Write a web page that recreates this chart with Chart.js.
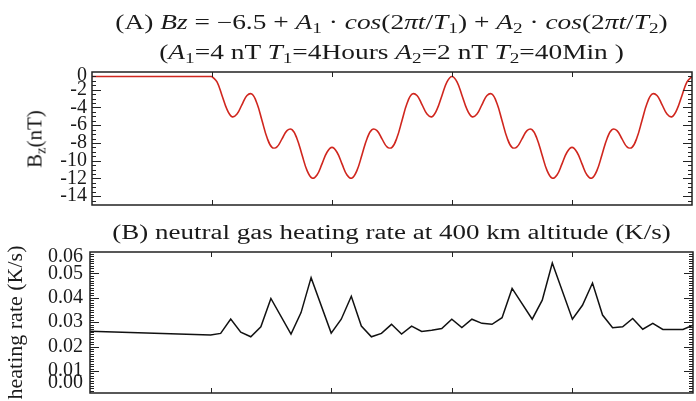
<!DOCTYPE html>
<html>
<head>
<meta charset="utf-8">
<script src="https://cdn.jsdelivr.net/npm/chart.js@4.4.1/dist/chart.umd.min.js"></script>
<style>
  body { margin: 0; background: #fff; }
  #wrap { position: relative; width: 696px; height: 401px; overflow: hidden;
          font-family: "Liberation Serif", "DejaVu Serif", serif; color: #1a1a1a; }
  canvas { position: absolute; left: 0; }
  .title { position: absolute; left: 91px; width: 601px; text-align: center;
           white-space: nowrap; font-size: 20px; line-height: 20px;
           transform: scaleX(1.37); transform-origin: 50% 50%; }
  .title sub { font-size: 70%; vertical-align: -0.25em; line-height: 0; }
  #bzLabel { position: absolute; left: 35px; top: 139px; font-size: 21px; white-space: nowrap;
             transform: translate(-50%, -50%) rotate(-90deg); }
  #bzLabel sub { font-size: 70%; vertical-align: -0.25em; line-height: 0; }
</style>
</head>
<body>
<div id="wrap">
  <canvas id="bzChart" width="696" height="215" style="top:0"></canvas>
  <canvas id="heatChart" width="696" height="186" style="top:215px"></canvas>
  <div class="title" style="top:12px">(A) <i>Bz</i> = &minus;6.5 + <i>A</i><sub>1</sub> &middot; <i>cos</i>(2<i>&pi;t</i>/<i>T</i><sub>1</sub>) + <i>A</i><sub>2</sub> &middot; <i>cos</i>(2<i>&pi;t</i>/<i>T</i><sub>2</sub>)</div>
  <div class="title" style="top:42px">(<i>A</i><sub>1</sub>=4 nT <i>T</i><sub>1</sub>=4Hours <i>A</i><sub>2</sub>=2 nT <i>T</i><sub>2</sub>=40Min )</div>
  <div class="title" style="top:222px; transform: scaleX(1.35)">(B) neutral gas heating rate at 400 km altitude (K/s)</div>
  <div id="bzLabel">B<sub>z</sub>(nT)</div>
</div>
<script>
// time axis in minutes, 0..600
const axisMinutes = [0, 600];
const xTickMinutes = [120, 240, 360, 480];

// IMF Bz (nT): quiet -0.5 until minute 120, then the two-period wave
const bzMinutes = [0,
  120, 125, 130, 135, 140, 145, 150, 155, 160, 165, 170, 175, 180, 185, 190, 195,
  200, 205, 210, 215, 220, 225, 230, 235, 240, 245, 250, 255, 260, 265, 270, 275,
  280, 285, 290, 295, 300, 305, 310, 315, 320, 325, 330, 335, 340, 345, 350, 355, 360,
  365, 370, 375, 380, 385, 390, 395, 400, 405, 410, 415, 420, 425, 430, 435, 440, 445,
  450, 455, 460, 465, 470, 475, 480, 485, 490, 495, 500, 505, 510, 515, 520, 525,
  530, 535, 540, 545, 550, 555, 560, 565, 570, 575, 580, 585, 590, 595, 600];
const bzValues = [-0.5,
  -0.5, -1.12, -2.64, -4.22, -5.04, -4.74, -3.67, -2.65, -2.5, -3.56, -5.47, -7.39, -8.5, -8.44, -7.54, -6.62,
  -6.5, -7.52, -9.33, -11.09, -11.96, -11.61, -10.36, -9.05, -8.5, -9.05, -10.36, -11.61, -11.96, -11.09, -9.33, -7.52,
  -6.5, -6.62, -7.54, -8.44, -8.5, -7.39, -5.47, -3.56, -2.5, -2.65, -3.67, -4.74, -5.04, -4.22, -2.64, -1.12, -0.5,
  -1.12, -2.64, -4.22, -5.04, -4.74, -3.67, -2.65, -2.5, -3.56, -5.47, -7.39, -8.5, -8.44, -7.54, -6.62, -6.5,
  -7.52, -9.33, -11.09, -11.96, -11.61, -10.36, -9.05, -8.5, -9.05, -10.36, -11.61, -11.96, -11.09, -9.33, -7.52, -6.5,
  -6.62, -7.54, -8.44, -8.5, -7.39, -5.47, -3.56, -2.5, -2.65, -3.67, -4.74, -5.04, -4.22, -2.64, -1.12, -0.5];
const bzRange = [-15, 0];
const bzTicks = [-14, -12, -10, -8, -6, -4, -2, 0];
const bzTickLabels = ['-14', '-12', '-10', '-8', '-6', '-4', '-2', '0'];

// neutral gas heating rate at 400 km (K/s)
const heatMinutes = [0, 120, 130, 140, 150, 160, 170, 180, 200, 210, 220, 240, 250, 260, 270, 280,
  290, 300, 310, 320, 330, 340, 350, 360, 370, 380, 390, 400, 410, 420, 440, 450, 460,
  480, 490, 500, 510, 520, 530, 540, 550, 560, 570, 580, 590, 600];
const heatRate = [0.0263, 0.0247, 0.0254, 0.0313, 0.0259, 0.0240, 0.0281, 0.0397, 0.0251, 0.0339, 0.0482,
  0.0255, 0.0312, 0.0406, 0.0284, 0.0240, 0.0254, 0.0291, 0.0251, 0.0284, 0.0262, 0.0267, 0.0274,
  0.0312, 0.0278, 0.0312, 0.0295, 0.0291, 0.0318, 0.0438, 0.0312, 0.0390, 0.0542, 0.0312, 0.0369,
  0.0460, 0.0329, 0.0277, 0.0281, 0.0315, 0.0271, 0.0295, 0.0270, 0.0270, 0.0270, 0.0288];
const heatRange = [0.001, 0.0587];
const heatTicks = [0, 0.01, 0.02, 0.03, 0.04, 0.05, 0.06];
const heatTickLabels = ['0.00', '0.01', '0.02', '0.03', '0.04', '0.05', '0.06'];

const serif = '"Liberation Serif", "DejaVu Serif", serif';
const bzRed = '#d0261e';

// box around the plot with IDL style inward ticks
const framePlugin = {
  id: 'frame',
  afterDatasetsDraw(chart, args, opts) {
    const { ctx, chartArea: a, scales: { x, y } } = chart;
    ctx.save();
    ctx.strokeStyle = '#222';
    ctx.lineWidth = 1;
    ctx.beginPath();
    opts.xTicks.forEach(v => {
      const px = Math.round(x.getPixelForValue(v)) + 0.5;
      ctx.moveTo(px, a.top); ctx.lineTo(px, a.top + 5);
      ctx.moveTo(px, a.bottom); ctx.lineTo(px, a.bottom - 5);
    });
    const n = Math.round((opts.minorTo - opts.minorFrom) / opts.minorStep);
    for (let i = 0; i <= n; i++) {
      const v = opts.minorFrom + i * opts.minorStep;
      const py = Math.round(y.getPixelForValue(v)) + 0.5;
      if (py <= a.top + 1 || py >= a.bottom - 1) continue;
      const major = opts.yMajor.some(m => Math.abs(m - v) < opts.minorStep / 10);
      const len = major ? 9 : 4;
      ctx.moveTo(a.left, py); ctx.lineTo(a.left + len, py);
      ctx.moveTo(a.right, py); ctx.lineTo(a.right - len, py);
    }
    ctx.stroke();
    ctx.lineWidth = 1.5;
    ctx.strokeRect(a.left, a.top, a.right - a.left, a.bottom - a.top);
    ctx.restore();
  }
};

// lowIn / highIn: end labels are pulled inside the frame by this share of the axis span
function yAxis(range, tickValues, tickLabels, width, pad, lowIn, highIn) {
  const span = range[1] - range[0];
  return {
    min: range[0], max: range[1],
    afterFit(scale) {
      scale.width = width;
      scale.paddingTop = 0;
      scale.paddingBottom = 0;
    },
    afterBuildTicks(scale) {
      scale.ticks = tickValues.map(v => ({
        value: Math.min(Math.max(v, range[0] + span * lowIn), range[1] - span * highIn)
      }));
    },
    grid: { display: false, drawTicks: false },
    border: { display: false },
    ticks: {
      autoSkip: false, padding: pad, color: '#1a1a1a',
      font: { family: serif, size: 20 },
      callback: (v, i) => tickLabels[i]
    }
  };
}

const bzPoints = bzMinutes.map((t, i) => ({ x: t, y: bzValues[i] }));

new Chart(document.getElementById('bzChart'), {
  type: 'line',
  data: {
    datasets: [
      // quiet interval, straight
      { data: bzPoints.slice(0, 2), borderColor: bzRed, borderWidth: 1.6, pointRadius: 0, tension: 0 },
      // driven interval, smooth
      { data: bzPoints.slice(1), borderColor: bzRed, borderWidth: 1.6, pointRadius: 0, tension: 0.4 }
    ]
  },
  options: {
    responsive: false, animation: false,
    layout: { padding: { top: 72, right: 4, bottom: 10, left: 0 } },
    plugins: {
      legend: { display: false }, tooltip: { enabled: false },
      frame: { xTicks: xTickMinutes, yMajor: bzTicks, minorFrom: -15, minorTo: 0, minorStep: 0.5 }
    },
    scales: {
      x: { type: 'linear', min: axisMinutes[0], max: axisMinutes[1], display: false },
      y: yAxis(bzRange, bzTicks, bzTickLabels, 92, 5, 0.04, 0.026)
    }
  },
  plugins: [framePlugin]
});

const heatY = yAxis(heatRange, heatTicks, heatTickLabels, 90, 7, 0.071, 0.037);
heatY.title = { display: true, text: 'heating rate (K/s)', color: '#1a1a1a',
  font: { family: serif, size: 22 }, padding: { top: 3, bottom: 0 } };

new Chart(document.getElementById('heatChart'), {
  type: 'line',
  data: {
    datasets: [{
      data: heatMinutes.map((t, i) => ({ x: t, y: heatRate[i] })),
      borderColor: '#111', borderWidth: 1.5, pointRadius: 0, tension: 0
    }]
  },
  options: {
    responsive: false, animation: false,
    layout: { padding: { top: 37, right: 3, bottom: 8, left: 0 } },
    plugins: {
      legend: { display: false }, tooltip: { enabled: false },
      frame: { xTicks: xTickMinutes, yMajor: [0.01, 0.02, 0.03, 0.04, 0.05], minorFrom: 0, minorTo: 0.06, minorStep: 0.001 }
    },
    scales: {
      x: { type: 'linear', min: axisMinutes[0], max: axisMinutes[1], display: false },
      y: heatY
    }
  },
  plugins: [framePlugin]
});
</script>
</body>
</html>
